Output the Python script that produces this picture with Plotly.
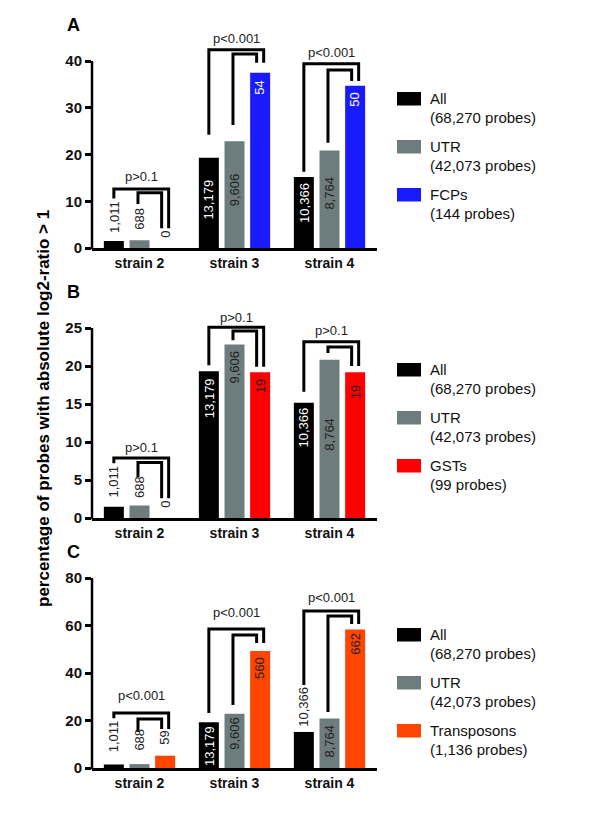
import plotly.graph_objects as go

# ---------------- data ----------------
categories = ["strain 2", "strain 3", "strain 4"]

# percentage of probes with |log2 ratio| > 1
pct_all = [1.48, 19.30, 15.18]
pct_utr = [1.64, 22.83, 20.83]
pct_fcp = [0.0, 37.50, 34.72]
pct_gst = [0.0, 19.19, 19.19]
pct_trn = [5.19, 49.30, 58.27]

# probe counts printed on the bars
cnt_all = [1011, 13179, 10366]
cnt_utr = [688, 9606, 8764]
cnt_fcp = [0, 54, 50]
cnt_gst = [0, 19, 19]
cnt_trn = [59, 560, 662]

legend_all = ["All", "(68,270 probes)"]
legend_utr = ["UTR", "(42,073 probes)"]
legend_fcp = ["FCPs", "(144 probes)"]
legend_gst = ["GSTs", "(99 probes)"]
legend_trn = ["Transposons", "(1,136 probes)"]

pvals_A = ["p>0.1", "p<0.001", "p<0.001"]
pvals_B = ["p>0.1", "p>0.1", "p>0.1"]
pvals_C = ["p<0.001", "p<0.001", "p<0.001"]

y_ticks_A = [0, 10, 20, 30, 40]
y_ticks_B = [0, 5, 10, 15, 20, 25]
y_ticks_C = [0, 20, 40, 60, 80]

panel_letters = ["A", "B", "C"]
y_title = "percentage of probes with absolute log2-ratio > 1"

# ---------------- styles / layout geometry ----------------
W, H = 600, 818
COL_ALL = "#000000"
COL_UTR = "#6d7c7c"
COL_FCP = "#1a1aff"
COL_GST = "#ff0000"
COL_TRN = "#ff4500"
FONT = "Arial, Liberation Sans, sans-serif"

def fx(px):
    return px / W

def fy(px):
    return 1 - px / H

X_LEFT, X_RIGHT = 92, 377
# zero pixel, pixels per unit, range top for each panel
panels_geo = [
    dict(zero=248, ppu=4.675, rtop=48),
    dict(zero=518, ppu=7.6, rtop=28),
    dict(zero=768, ppu=2.375, rtop=80),
]

# bracket geometry per group (axis units):
# outer_top, outer_left_bottom, inner_top, inner_left_bottom, right_bottom, label_y
brackets = [
    [(12.6, 10.6, 11.8, 9.4, 4.2, 15.2),
     (42.4, 24.2, 41.5, 26.3, 39.6, 44.9),
     (39.4, 16.3, 38.1, 22.5, 35.7, 41.9)],
    [(7.9, 7.2, 7.3, 5.4, 2.6, 9.3),
     (25.1, 20.1, 24.6, 23.4, 19.9, 26.4),
     (23.2, 16.6, 22.5, 21.7, 20.0, 24.7)],
    [(23.2, 21.0, 20.6, 15.2, 16.4, 30.7),
     (58.5, 23.2, 56.0, 26.5, 52.6, 65.3),
     (66.1, 34.9, 64.0, 23.6, 60.6, 72.0)],
]

# bar-label placement in px: positive = inside below bar top, negative = gap above bar
label_place = [
    [[-6, -8, -8], [20, 30, 6], [4, 24, 5]],
    [[-7, -5, -8], [5, 4, 5], [3, 56, 11]],
    [[-10, -11, -9], [2, 1, 4], [-3, 4, 1]],
]

legend_tops = [[92, 140, 188], [363, 411, 459], [628, 676, 724]]
letter_y = [25, 292, 552]

OFFS = [-0.27, 0.0, 0.27]

panels = [
    dict(series=[(pct_all, cnt_all, COL_ALL, legend_all),
                 (pct_utr, cnt_utr, COL_UTR, legend_utr),
                 (pct_fcp, cnt_fcp, COL_FCP, legend_fcp)],
         pvals=pvals_A, ticks=y_ticks_A),
    dict(series=[(pct_all, cnt_all, COL_ALL, legend_all),
                 (pct_utr, cnt_utr, COL_UTR, legend_utr),
                 (pct_gst, cnt_gst, COL_GST, legend_gst)],
         pvals=pvals_B, ticks=y_ticks_B),
    dict(series=[(pct_all, cnt_all, COL_ALL, legend_all),
                 (pct_utr, cnt_utr, COL_UTR, legend_utr),
                 (pct_trn, cnt_trn, COL_TRN, legend_trn)],
         pvals=pvals_C, ticks=y_ticks_C),
]

fig = go.Figure()
shapes = []
annotations = []
layout_axes = {}

for p, (panel, geo) in enumerate(zip(panels, panels_geo)):
    suffix = "" if p == 0 else str(p + 1)
    xa, ya = "x" + suffix, "y" + suffix
    top_px = geo["zero"] - geo["rtop"] * geo["ppu"]

    for s, (vals, cnts, col, _) in enumerate(panel["series"]):
        fig.add_trace(go.Bar(x=categories, y=vals, marker=dict(color=col, line=dict(width=0)),
                             xaxis=xa, yaxis=ya, showlegend=False, hoverinfo="skip"))
        for g in range(3):
            off = label_place[p][g][s]
            inside = off > 0
            tcol = ("#ffffff" if col in (COL_ALL, COL_FCP) else "#222222") if inside else "#222222"
            annotations.append(dict(x=g + OFFS[s], y=vals[g], xref=xa, yref=ya,
                                    text=f"{cnts[g]:,}", textangle=-90, showarrow=False,
                                    xanchor="center", yanchor="top" if inside else "bottom",
                                    yshift=-off,
                                    font=dict(family=FONT, size=13, color=tcol)))

    for g in range(3):
        ot, olb, it, ilb, rb, ly = brackets[p][g]
        xl_o = g + OFFS[0]
        xr_o = g + OFFS[2] + 0.037
        xl_i = g + OFFS[1] - 0.016
        xr_i = g + OFFS[2] - 0.037
        for path_pts in ([(xl_o, olb), (xl_o, ot), (xr_o, ot), (xr_o, rb)],
                         [(xl_i, ilb), (xl_i, it), (xr_i, it), (xr_i, rb)]):
            d = "M " + " L ".join(f"{x},{y}" for x, y in path_pts)
            shapes.append(dict(type="path", path=d, xref=xa, yref=ya,
                               line=dict(color="#000000", width=3)))
        annotations.append(dict(x=(xl_o + xr_o) / 2, y=ly, xref=xa, yref=ya,
                                text=panel["pvals"][g], showarrow=False,
                                xanchor="center", yanchor="middle",
                                font=dict(family=FONT, size=13, color="#222222")))

    layout_axes["xaxis" + suffix] = dict(
        domain=[fx(X_LEFT), fx(X_RIGHT)], anchor=ya, type="category", automargin=False,
        range=[-0.5, 2.5], showline=True, linecolor="#000000", linewidth=2.5,
        ticks="", showgrid=False, zeroline=False, fixedrange=True,
        tickfont=dict(family=FONT, size=14, color="#111111", weight="bold"))
    layout_axes["yaxis" + suffix] = dict(
        domain=[fy(geo["zero"]), fy(top_px)], anchor=xa, range=[0, geo["rtop"]], automargin=False,
        showline=False, tickvals=panel["ticks"], ticktext=[str(t) for t in panel["ticks"]],
        ticks="outside", ticklen=6, tickwidth=2.5, tickcolor="#000000",
        showgrid=False, zeroline=False, fixedrange=True,
        tickfont=dict(family=FONT, size=15, color="#111111", weight="bold"))
    # y axis line only up to the top tick
    ytop_px = geo["zero"] - panel["ticks"][-1] * geo["ppu"]
    shapes.append(dict(type="line", xref="paper", yref="paper",
                       x0=fx(X_LEFT), x1=fx(X_LEFT), y0=fy(geo["zero"] + 1.2), y1=fy(ytop_px),
                       line=dict(color="#000000", width=2.5)))

    # custom legend
    for s, (_, _, col, leg) in enumerate(panel["series"]):
        t = legend_tops[p][s]
        shapes.append(dict(type="rect", xref="paper", yref="paper",
                           x0=fx(397), x1=fx(421), y0=fy(t + 13.5), y1=fy(t),
                           fillcolor=col, line=dict(width=0)))
        annotations.append(dict(x=fx(428), y=fy(t + 6.5), xref="paper", yref="paper",
                                text=leg[0], showarrow=False, xanchor="left", yanchor="middle",
                                font=dict(family=FONT, size=15, color="#111111")))
        annotations.append(dict(x=fx(428), y=fy(t + 25.5), xref="paper", yref="paper",
                                text=leg[1], showarrow=False, xanchor="left", yanchor="middle",
                                font=dict(family=FONT, size=15, color="#111111")))

    annotations.append(dict(x=fx(73), y=fy(letter_y[p]), xref="paper", yref="paper",
                            text=panel_letters[p], showarrow=False, xanchor="center",
                            yanchor="middle",
                            font=dict(family=FONT, size=18, color="#000000", weight="bold")))

annotations.append(dict(x=fx(43), y=fy(409), xref="paper", yref="paper", text=y_title,
                        textangle=-90, showarrow=False, xanchor="center", yanchor="middle",
                        font=dict(family=FONT, size=17, color="#000000", weight="bold")))

fig.update_layout(
    width=W, height=H, margin=dict(l=0, r=0, t=0, b=0, pad=0, autoexpand=False),
    paper_bgcolor="#ffffff", plot_bgcolor="#ffffff",
    barmode="group", bargap=0.19, bargroupgap=0.22,
    shapes=shapes, annotations=annotations, showlegend=False,
    **layout_axes,
)

fig.write_html("out.html", config={"responsive": False, "displayModeBar": False},
               post_script="document.body.style.margin='0';document.body.style.overflow='hidden';")
